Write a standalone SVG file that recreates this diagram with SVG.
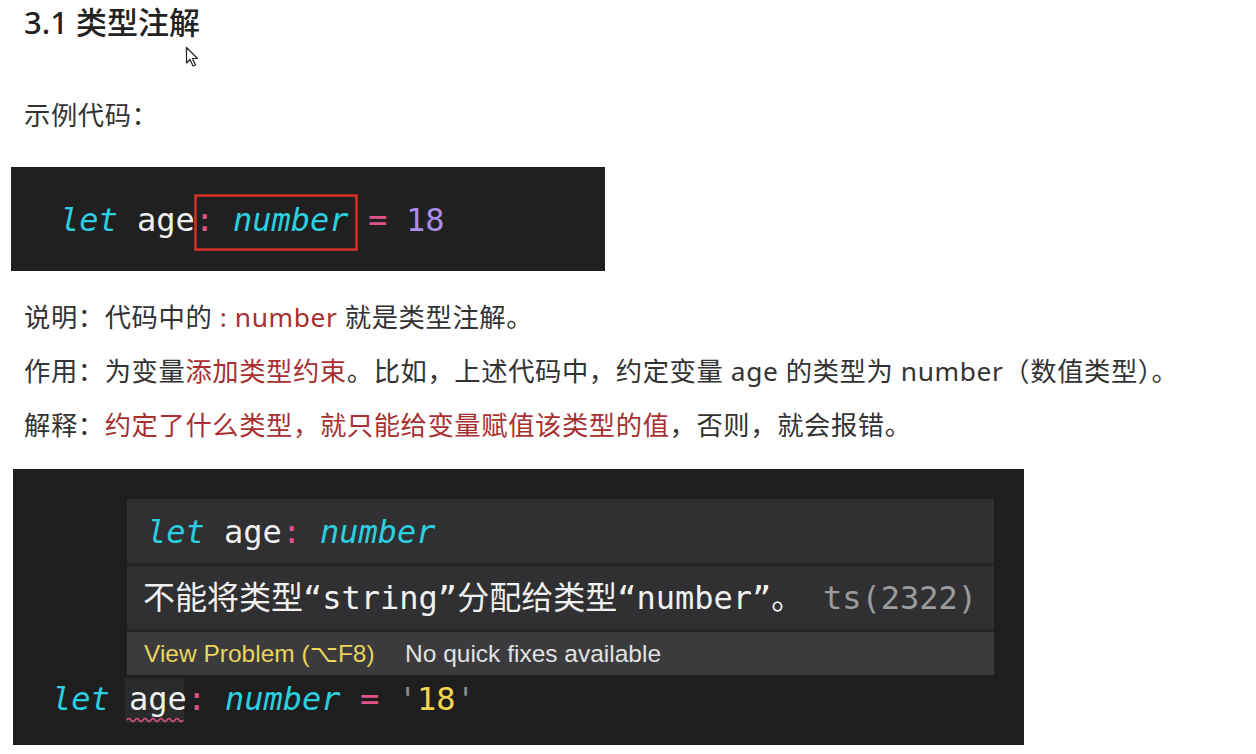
<svg xmlns="http://www.w3.org/2000/svg" width="1256" height="754" viewBox="0 0 1256 754">
<style>
.body{font-family:"Noto Sans","Noto Sans CJK SC",sans-serif;font-size:26.3px;letter-spacing:0.6px;fill:#333333}
.red{fill:#a93030}
.title{font-family:"Noto Sans","Noto Sans CJK SC",sans-serif;font-size:31px;font-weight:500;fill:#222222}
.code{font-family:"DejaVu Sans Mono","Noto Sans CJK SC",monospace;font-size:32px}
.kw{fill:#2ccfe0;font-style:italic}
.id{fill:#f0f0f0}
.op{fill:#e2528a}
.num{fill:#a98be8}
.str{fill:#f2d54e}
.q{fill:#8a8a8a}
.ui{font-family:"Liberation Sans","DejaVu Sans",sans-serif;font-size:24.5px}
</style>
<rect width="1256" height="754" fill="#ffffff"/>

<g id="title">
<text class="title" x="24" y="34">3.1 类型注解</text>
</g>

<g id="cursor">
<path d="M186.5,47.5 L186.5,63 L190,59.5 L193,66 L195.5,65 L192.5,58.5 L197.5,58.5 Z" fill="#ffffff" stroke="#222222" stroke-width="1.2" stroke-linejoin="round"/>
</g>

<g id="example-label">
<text class="body" x="24" y="125">示例代码：</text>
</g>

<g id="code-block-1">
<rect x="11" y="167" width="594" height="104" fill="#202020"/>
<text class="code" y="231"><tspan class="kw" x="60">let</tspan><tspan class="id" x="137">age</tspan><tspan class="op" x="195">:</tspan><tspan class="kw" x="233">number</tspan><tspan class="op" x="368">=</tspan><tspan class="num" x="406">18</tspan></text>
<rect x="195.5" y="195.5" width="161" height="54" fill="none" stroke="#d6301f" stroke-width="2.5"/>
</g>

<g id="explanation">
<text class="body" x="24" y="327">说明：代码中的<tspan class="red"> : number </tspan>就是类型注解。</text>
<text class="body" x="24" y="381">作用：为变量<tspan class="red">添加类型约束</tspan>。比如，上述代码中，约定变量 age 的类型为 number（数值类型）。</text>
<text class="body" x="24" y="435">解释：<tspan class="red">约定了什么类型，就只能给变量赋值该类型的值</tspan>，否则，就会报错。</text>
</g>

<g id="code-block-2">
<rect x="13" y="469" width="1011" height="276" fill="#1e1e1e"/>
<g id="hover-popup">
<rect x="127" y="499" width="867" height="176" fill="#252526"/>
<rect x="127" y="499" width="867" height="64" fill="#303032"/>
<rect x="127" y="566" width="867" height="63" fill="#303032"/>
<rect x="127" y="632" width="867" height="43" fill="#3b3b3e"/>
<text class="code" y="543"><tspan class="kw" x="147">let</tspan><tspan class="id" x="224">age</tspan><tspan class="op" x="282">:</tspan><tspan class="kw" x="320">number</tspan></text>
<text class="code" x="143" y="609" fill="#f0f0f0">不能将类型“string”分配给类型“number”。<tspan fill="#9b9b9b" x="823">ts(2322)</tspan></text>
<text class="ui" x="144" y="662" fill="#e8d55a">View Problem (⌥F8)</text>
<text class="ui" x="405" y="662" fill="#e2e2e2">No quick fixes available</text>
</g>
<g id="code-line">
<rect x="125" y="678" width="59" height="45" fill="#2a2a2a"/>
<text class="code" y="710"><tspan class="kw" x="52">let</tspan><tspan class="id" x="129">age</tspan><tspan class="op" x="187">:</tspan><tspan class="kw" x="225">number</tspan><tspan class="op" x="360">=</tspan><tspan class="q" x="398">'</tspan><tspan class="str" x="417">18</tspan><tspan class="q" x="456">'</tspan></text>
<path d="M127,720 q2,-3 4,0 t4,0 t4,0 t4,0 t4,0 t4,0 t4,0 t4,0 t4,0 t4,0 t4,0 t4,0 t4,0 t4,0" fill="none" stroke="#e2528a" stroke-width="1.5"/>
</g>
</g>
</svg>
